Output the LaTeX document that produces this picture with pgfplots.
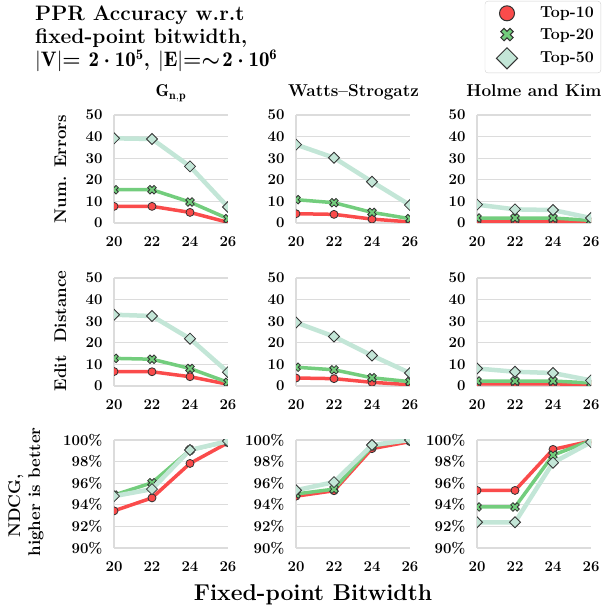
\documentclass[border=0pt]{standalone}
\usepackage{fontspec}
\usepackage{amsmath}
\usepackage{pgfplots}
\pgfplotsset{compat=1.18}

\definecolor{cred}{RGB}{250,75,75}
\definecolor{cgreen}{RGB}{115,205,125}
\definecolor{cteal}{RGB}{195,230,215}
\definecolor{cgrid}{RGB}{220,220,220}

% thick filled X marker
\pgfdeclareplotmark{fatx}{%
  \pgfpathmoveto{\pgfqpoint{-0.4596\pgfplotmarksize}{0.9546\pgfplotmarksize}}%
  \pgfpathlineto{\pgfqpoint{0pt}{0.4950\pgfplotmarksize}}%
  \pgfpathlineto{\pgfqpoint{0.4596\pgfplotmarksize}{0.9546\pgfplotmarksize}}%
  \pgfpathlineto{\pgfqpoint{0.9546\pgfplotmarksize}{0.4596\pgfplotmarksize}}%
  \pgfpathlineto{\pgfqpoint{0.4950\pgfplotmarksize}{0pt}}%
  \pgfpathlineto{\pgfqpoint{0.9546\pgfplotmarksize}{-0.4596\pgfplotmarksize}}%
  \pgfpathlineto{\pgfqpoint{0.4596\pgfplotmarksize}{-0.9546\pgfplotmarksize}}%
  \pgfpathlineto{\pgfqpoint{0pt}{-0.4950\pgfplotmarksize}}%
  \pgfpathlineto{\pgfqpoint{-0.4596\pgfplotmarksize}{-0.9546\pgfplotmarksize}}%
  \pgfpathlineto{\pgfqpoint{-0.9546\pgfplotmarksize}{-0.4596\pgfplotmarksize}}%
  \pgfpathlineto{\pgfqpoint{-0.4950\pgfplotmarksize}{0pt}}%
  \pgfpathlineto{\pgfqpoint{-0.9546\pgfplotmarksize}{0.4596\pgfplotmarksize}}%
  \pgfpathclose
  \pgfusepathqfillstroke}

\newcommand\myfs[1]{\fontsize{#1}{#1}\selectfont\bfseries}
\newcommand\ttltext{PPR Accuracy w.r.t\\fixed-point bitwidth,\\
  $\vert\mathbf{V}\vert$= $\mathbf{2}\boldsymbol{\cdot}\mathbf{10^{5}}$,
  $\vert\mathbf{E}\vert$=$\boldsymbol{\sim}\!\mathbf{2}\boldsymbol{\cdot}\mathbf{10^{6}}$}
\newcommand\gnptext{$\mathbf{G}_{\mathbf{n,p}}$}

\pgfplotsset{
  base/.style={
    width=114bp, height=108bp, scale only axis, anchor=south west,
    xmin=20, xmax=26, xtick={20,22,24,26},
    axis x line=bottom, axis y line=left,
    x axis line style={draw=none},
    y axis line style={draw=cgrid, line width=1.2bp, -},
    ymajorgrids, grid style={cgrid, line width=1.2bp},
    major tick length=0pt,
    clip marker paths=true,
    tick label style={font=\myfs{15}},
    /pgf/number format/assume math mode=true,
    xticklabel style={yshift=-10bp},
    yticklabel style={xshift=-8bp},
  },
  err/.style={base, ymin=0, ymax=50, ytick={0,10,...,50}},
  ndcg/.style={base, ymin=90, ymax=100, ytick={90,92,...,100},
    yticklabel={\pgfmathprintnumber{\tick}\%}},
  t10/.style={color=cred, line width=3.5bp, mark=*, mark size=4bp,
    mark options={draw=black!80, fill=cred, line width=0.8bp}},
  t20/.style={color=cgreen, line width=3.5bp, mark=fatx, mark size=4.5bp,
    mark options={draw=black!80, fill=cgreen, line width=0.8bp}},
  t50/.style={color=cteal, line width=4.5bp, mark=square*, mark size=3.9bp,
    mark options={draw=black!80, fill=cteal, line width=0.8bp, rotate=45}},
  legmark/.style={only marks,
    legend image code/.code={\path[draw=none, fill=none] (-16bp,0bp) -- (12bp,0bp);
      \draw[##1] plot coordinates {(0bp,0bp)};}},
}

\begin{document}
\begin{tikzpicture}
\path[use as bounding box] (0,0) rectangle (604bp,608bp);

% ---- row 1: number of errors
\begin{axis}[err, at={(114bp,385bp)}]
\addplot[t10] coordinates {(20,7.7)(22,7.7)(24,4.9)(26,0.3)};
\addplot[t20] coordinates {(20,15.4)(22,15.4)(24,9.7)(26,2.0)};
\addplot[t50] coordinates {(20,39.2)(22,38.9)(24,26.2)(26,7.4)};
\end{axis}
\begin{axis}[err, at={(296bp,385bp)}]
\addplot[t10] coordinates {(20,4.3)(22,4.0)(24,1.8)(26,0.5)};
\addplot[t20] coordinates {(20,10.8)(22,9.4)(24,4.9)(26,2.0)};
\addplot[t50] coordinates {(20,36.3)(22,30.2)(24,19.1)(26,8.3)};
\end{axis}
\begin{axis}[err, at={(477bp,385bp)},
  legend style={at={(1.088,2.056)}, anchor=north east, draw=gray!35,
    rounded corners=3bp, font=\myfs{16}, row sep=5bp, column sep=20bp,
    inner xsep=6bp, inner ysep=4bp, nodes={inner xsep=1bp, inner ysep=2bp}},
  legend cell align=left]
\addlegendimage{legmark, mark=*, mark size=7.5bp,
  mark options={draw=black!80, fill=cred, line width=1bp}}
\addlegendentry{Top-10}
\addlegendimage{legmark, mark=fatx, mark size=6.5bp,
  mark options={draw=black!80, fill=cgreen, line width=1bp}}
\addlegendentry{Top-20}
\addlegendimage{legmark, mark=square*, mark size=7.5bp,
  mark options={draw=black!80, fill=cteal, line width=1bp, rotate=45}}
\addlegendentry{Top-50}
\addplot[t10, forget plot] coordinates {(20,0.6)(22,0.6)(24,0.6)(26,0.4)};
\addplot[t20, forget plot] coordinates {(20,2.3)(22,2.3)(24,2.3)(26,1.2)};
\addplot[t50, forget plot] coordinates {(20,8.5)(22,6.3)(24,6.0)(26,2.3)};
\end{axis}

% ---- row 2: edit distance
\begin{axis}[err, at={(114bp,222bp)}]
\addplot[t10] coordinates {(20,6.7)(22,6.6)(24,4.3)(26,0.8)};
\addplot[t20] coordinates {(20,12.8)(22,12.4)(24,8.1)(26,1.7)};
\addplot[t50] coordinates {(20,33.0)(22,32.4)(24,21.9)(26,6.4)};
\end{axis}
\begin{axis}[err, at={(296bp,222bp)}]
\addplot[t10] coordinates {(20,3.7)(22,3.4)(24,1.7)(26,0.6)};
\addplot[t20] coordinates {(20,8.7)(22,7.5)(24,3.8)(26,2.0)};
\addplot[t50] coordinates {(20,29.4)(22,22.9)(24,14.1)(26,6.0)};
\end{axis}
\begin{axis}[err, at={(477bp,222bp)}]
\addplot[t10] coordinates {(20,1.0)(22,1.0)(24,1.0)(26,0.6)};
\addplot[t20] coordinates {(20,2.3)(22,2.3)(24,2.3)(26,1.4)};
\addplot[t50] coordinates {(20,8.1)(22,6.6)(24,6.0)(26,2.6)};
\end{axis}

% ---- row 3: NDCG
\begin{axis}[ndcg, at={(114bp,60bp)}]
\addplot[t10] coordinates {(20,93.44)(22,94.64)(24,97.83)(26,99.75)};
\addplot[t20] coordinates {(20,94.9)(22,96.04)(24,99.07)(26,99.85)};
\addplot[t50] coordinates {(20,94.8)(22,95.45)(24,99.07)(26,99.9)};
\end{axis}
\begin{axis}[ndcg, at={(296bp,60bp)}]
\addplot[t10] coordinates {(20,94.8)(22,95.3)(24,99.2)(26,99.85)};
\addplot[t20] coordinates {(20,95.0)(22,95.45)(24,99.44)(26,100)};
\addplot[t50] coordinates {(20,95.35)(22,96.1)(24,99.54)(26,100)};
\end{axis}
\begin{axis}[ndcg, at={(477bp,60bp)}]
\addplot[t10] coordinates {(20,95.33)(22,95.33)(24,99.13)(26,99.9)};
\addplot[t20] coordinates {(20,93.8)(22,93.8)(24,98.6)(26,99.94)};
\addplot[t50] coordinates {(20,92.38)(22,92.38)(24,97.9)(26,99.8)};
\end{axis}

% ---- text
\node[anchor=north west, inner sep=0pt, align=left,
  font=\fontsize{21}{23}\selectfont\bfseries] at (35bp,602bp) {\ttltext};
\node[anchor=base, font=\myfs{17.2}] at (171bp,511bp) {\gnptext};
\node[anchor=base, font=\myfs{17.2}] at (353.5bp,511bp) {Watts--Strogatz};
\node[anchor=base, font=\myfs{17.2}] at (534bp,511bp) {Holme and Kim};
\node[anchor=base, rotate=90, font=\myfs{17}] at (66bp,439bp) {Num. Errors};
\node[anchor=base, rotate=90, font=\myfs{17}] at (66bp,277bp) {Edit\ \ Distance};
\node[anchor=base, rotate=90, font=\myfs{17}] at (20bp,102bp) {NDCG,};
\node[anchor=base, rotate=90, font=\myfs{17}] at (40bp,116bp) {higher is better};
\node[anchor=base, font=\myfs{23}] at (313bp,8bp) {Fixed-point Bitwidth};
\end{tikzpicture}
\end{document}
